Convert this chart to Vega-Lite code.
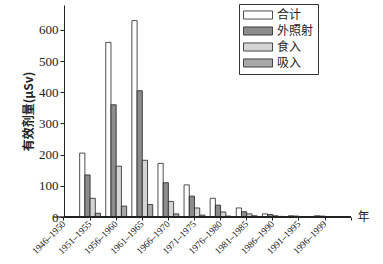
{
  "$schema": "https://vega.github.io/schema/vega-lite/v6.json",
  "width": 287,
  "height": 212,
  "autosize": "none",
  "padding": {"left": 64, "top": 5, "right": 32, "bottom": 47},
  "background": "white",
  "config": {
    "view": {"stroke": null},
    "axis": {"domainColor": "#222", "tickColor": "#222", "labelColor": "#222", "titleColor": "#222", "grid": false},
    "axisY": {"labelOverlap": false, "tickCount": 7, "values": [0, 100, 200, 300, 400, 500, 600]}
  },
  "data": {
    "values": [
      {"period": "1946–1950", "type": "合计", "value": 0},
      {"period": "1946–1950", "type": "外照射", "value": 0},
      {"period": "1946–1950", "type": "食入", "value": 0},
      {"period": "1946–1950", "type": "吸入", "value": 0},
      {"period": "1951–1955", "type": "合计", "value": 205},
      {"period": "1951–1955", "type": "外照射", "value": 135},
      {"period": "1951–1955", "type": "食入", "value": 60},
      {"period": "1951–1955", "type": "吸入", "value": 12},
      {"period": "1956–1960", "type": "合计", "value": 560},
      {"period": "1956–1960", "type": "外照射", "value": 360},
      {"period": "1956–1960", "type": "食入", "value": 163},
      {"period": "1956–1960", "type": "吸入", "value": 35},
      {"period": "1961–1965", "type": "合计", "value": 630},
      {"period": "1961–1965", "type": "外照射", "value": 405},
      {"period": "1961–1965", "type": "食入", "value": 182},
      {"period": "1961–1965", "type": "吸入", "value": 40},
      {"period": "1966–1970", "type": "合计", "value": 172},
      {"period": "1966–1970", "type": "外照射", "value": 110},
      {"period": "1966–1970", "type": "食入", "value": 50},
      {"period": "1966–1970", "type": "吸入", "value": 10},
      {"period": "1971–1975", "type": "合计", "value": 103},
      {"period": "1971–1975", "type": "外照射", "value": 67},
      {"period": "1971–1975", "type": "食入", "value": 29},
      {"period": "1971–1975", "type": "吸入", "value": 6},
      {"period": "1976–1980", "type": "合计", "value": 60},
      {"period": "1976–1980", "type": "外照射", "value": 38},
      {"period": "1976–1980", "type": "食入", "value": 16},
      {"period": "1976–1980", "type": "吸入", "value": 3},
      {"period": "1981–1985", "type": "合计", "value": 29},
      {"period": "1981–1985", "type": "外照射", "value": 17},
      {"period": "1981–1985", "type": "食入", "value": 10},
      {"period": "1981–1985", "type": "吸入", "value": 4},
      {"period": "1986–1990", "type": "合计", "value": 10},
      {"period": "1986–1990", "type": "外照射", "value": 8},
      {"period": "1986–1990", "type": "食入", "value": 4},
      {"period": "1986–1990", "type": "吸入", "value": 2},
      {"period": "1991–1995", "type": "合计", "value": 4},
      {"period": "1991–1995", "type": "外照射", "value": 3},
      {"period": "1991–1995", "type": "食入", "value": 1},
      {"period": "1991–1995", "type": "吸入", "value": 0.5},
      {"period": "1996–1999", "type": "合计", "value": 4},
      {"period": "1996–1999", "type": "外照射", "value": 3},
      {"period": "1996–1999", "type": "食入", "value": 1},
      {"period": "1996–1999", "type": "吸入", "value": 0.5}
    ]
  },
  "layer": [
    {
      "mark": {"type": "bar", "stroke": "#222", "strokeWidth": 0.8},
      "encoding": {
        "x": {
          "field": "period",
          "type": "nominal",
          "scale": {
            "domain": ["1946–1950", "1951–1955", "1956–1960", "1961–1965", "1966–1970", "1971–1975", "1976–1980", "1981–1985", "1986–1990", "1991–1995", "1996–1999", " "],
            "range": [-13.05, 300.15],
            "paddingInner": 0,
            "paddingOuter": 0
          },
          "axis": {
            "domain": false,
            "labelAngle": -45,
            "labelAlign": "right",
            "labelBaseline": "middle",
            "labelFont": "Liberation Serif",
            "labelFontSize": 9.5,
            "labelPadding": 2,
            "labelOverlap": false,
            "tickSize": 3,
            "title": "年",
            "titleFont": "Noto Sans CJK SC",
            "titleFontSize": 12,
            "titleFontWeight": "normal",
            "titleX": 293,
            "titleY": -1,
            "titleAlign": "left",
            "titleBaseline": "middle",
            "titleAngle": 0
          }
        },
        "xOffset": {
          "field": "type",
          "type": "nominal",
          "sort": ["合计", "外照射", "食入", "吸入"],
          "scale": {"paddingInner": 0, "paddingOuter": 0.5}
        },
        "y": {
          "field": "value",
          "type": "quantitative",
          "scale": {"domain": [0, 680], "nice": false},
          "axis": {
            "values": [0, 100, 200, 300, 400, 500, 600],
            "labelFont": "Liberation Serif",
            "labelFontSize": 13,
            "labelPadding": 2,
            "labelOverlap": false,
            "tickSize": 4,
            "title": "有效剂量(μSv)",
            "titleFont": "Noto Sans CJK SC",
            "titleFontSize": 12,
            "titleFontWeight": "bold",
            "titlePadding": 3
          }
        },
        "fill": {
          "field": "type",
          "type": "nominal",
          "sort": ["合计", "外照射", "食入", "吸入"],
          "scale": {"domain": ["合计", "外照射", "食入", "吸入"], "range": ["#ffffff", "#8c8c8c", "#d4d4d4", "#a8a8a8"]},
          "legend": {
            "title": null,
            "orient": "none",
            "legendX": 175,
            "legendY": -1,
            "direction": "vertical",
            "strokeColor": "#333",
            "padding": 4,
            "symbolType": "M-1,-0.28L1,-0.28L1,0.28L-1,0.28Z",
            "symbolSize": 841,
            "symbolStrokeColor": "#222",
            "symbolStrokeWidth": 0.8,
            "clipHeight": 14,
            "labelFont": "Noto Sans CJK SC",
            "labelFontSize": 12,
            "labelColor": "#222",
            "labelOffset": 4
          }
        }
      }
    },
    {
      "mark": {"type": "rule", "color": "#222", "strokeWidth": 1},
      "encoding": {
        "y": {
          "datum": 0,
          "type": "quantitative",
          "axis": {
            "values": [0, 100, 200, 300, 400, 500, 600],
            "labelFont": "Liberation Serif",
            "labelFontSize": 13,
            "labelPadding": 2,
            "labelOverlap": false,
            "tickSize": 4,
            "title": "有效剂量(μSv)",
            "titleFont": "Noto Sans CJK SC",
            "titleFontSize": 12,
            "titleFontWeight": "bold",
            "titlePadding": 3
          }
        }
      }
    }
  ]
}
